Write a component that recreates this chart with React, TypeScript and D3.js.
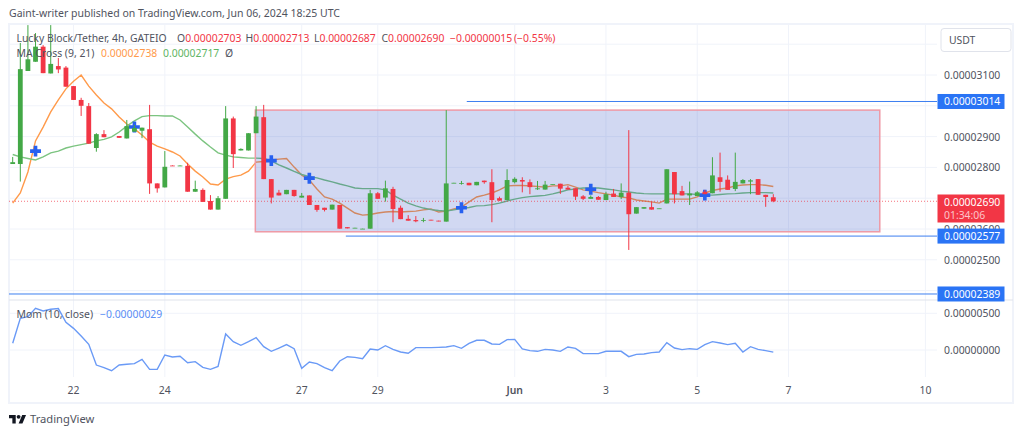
import React from 'react';
import * as d3 from 'd3';

// prices are in units of 0.00000001 USDT
const open = [
  2811, 2811, 3113, 3143, 3192, 3105, 3129, 3124, 3064, 3019,
  2999, 2863, 2908, 2902, 2902, 2894, 2916, 2919, 2924, 2748,
  2735, 2806, 2805, 2805, 2721, 2727, 2691, 2663, 2698, 2959,
  2855, 2855, 2911, 2963, 2762, 2718, 2713, 2727, 2702, 2709,
  2678, 2669, 2663, 2678, 2606, 2603, 2600, 2601, 2716, 2702,
  2730, 2669, 2633, 2629, 2627, 2630, 2627, 2624, 2749, 2748,
  2750, 2742, 2757, 2752, 2700, 2694, 2752, 2759, 2752, 2729,
  2728, 2745, 2747, 2734, 2732, 2706, 2698, 2704, 2694, 2715,
  2704, 2718, 2650, 2666, 2671, 2666, 2683, 2785, 2723, 2709,
  2707, 2721, 2716, 2768, 2760, 2730, 2748, 2754, 2762, 2711,
  2703,
];
const high = [
  2834, 3204, 3262, 3236, 3197, 3262, 3155, 3129, 3064, 3026,
  3009, 2911, 2921, 2902, 2902, 2954, 2938, 2929, 3003, 2748,
  2853, 2807, 2807, 2815, 2757, 2732, 2710, 2707, 2999, 2965,
  2862, 2911, 2999, 3003, 2762, 2727, 2727, 2727, 2717, 2709,
  2678, 2669, 2679, 2678, 2606, 2604, 2601, 2727, 2720, 2757,
  2737, 2676, 2645, 2642, 2636, 2630, 2627, 2986, 2750, 2756,
  2750, 2753, 2757, 2794, 2705, 2794, 2768, 2768, 2761, 2756,
  2756, 2746, 2747, 2740, 2732, 2710, 2709, 2707, 2721, 2730,
  2748, 2921, 2671, 2671, 2689, 2667, 2794, 2785, 2740, 2754,
  2723, 2727, 2833, 2848, 2774, 2848, 2762, 2762, 2762, 2711,
  2713,
];
const low = [
  2811, 2754, 3113, 3143, 3106, 3105, 3106, 3062, 3019, 2967,
  2877, 2851, 2898, 2901, 2896, 2894, 2916, 2895, 2714, 2718,
  2735, 2805, 2805, 2721, 2721, 2688, 2663, 2663, 2698, 2798,
  2855, 2855, 2911, 2762, 2683, 2709, 2713, 2705, 2702, 2678,
  2656, 2657, 2663, 2601, 2602, 2603, 2600, 2601, 2698, 2689,
  2622, 2632, 2627, 2622, 2622, 2628, 2625, 2624, 2749, 2744,
  2742, 2742, 2747, 2622, 2692, 2694, 2748, 2719, 2713, 2727,
  2728, 2745, 2714, 2728, 2694, 2694, 2698, 2695, 2694, 2704,
  2697, 2532, 2650, 2666, 2663, 2666, 2683, 2683, 2709, 2678,
  2707, 2713, 2716, 2721, 2727, 2723, 2748, 2713, 2711, 2672,
  2687,
];
const close = [
  2817, 3119, 3151, 3192, 3106, 3136, 3118, 3062, 3019, 3000,
  2877, 2908, 2898, 2901, 2896, 2934, 2928, 2929, 2748, 2732,
  2802, 2805, 2806, 2721, 2730, 2688, 2663, 2700, 2959, 2843,
  2860, 2911, 2965, 2762, 2702, 2709, 2727, 2707, 2708, 2678,
  2662, 2662, 2679, 2601, 2602, 2604, 2601, 2716, 2698, 2732,
  2665, 2632, 2627, 2625, 2629, 2628, 2625, 2748, 2750, 2749,
  2742, 2753, 2752, 2694, 2692, 2759, 2763, 2754, 2736, 2732,
  2744, 2746, 2731, 2728, 2705, 2698, 2704, 2695, 2713, 2704,
  2718, 2648, 2671, 2671, 2663, 2667, 2794, 2713, 2709, 2715,
  2719, 2713, 2774, 2753, 2727, 2753, 2759, 2758, 2711, 2704,
  2690,
];
const maFast = [
  2684, 2717, 2785, 2886, 2931, 2980, 3019, 3055, 3080, 3100,
  3064, 3035, 3009, 2990, 2964, 2941, 2925, 2905, 2882, 2869,
  2860, 2850, 2837, 2811, 2788, 2769, 2746, 2743, 2762, 2770,
  2775, 2788, 2817, 2819, 2824, 2827, 2829, 2801, 2775, 2759,
  2730, 2704, 2697, 2684, 2668, 2652, 2645, 2647, 2652, 2655,
  2657, 2655, 2657, 2658, 2662, 2665, 2655, 2658, 2665, 2671,
  2688, 2704, 2710, 2717, 2727, 2740, 2741, 2741, 2740, 2738,
  2736, 2740, 2740, 2744, 2736, 2727, 2723, 2718, 2714, 2710,
  2704, 2701, 2694, 2691, 2688, 2684, 2697, 2697, 2697, 2697,
  2704, 2717, 2725, 2730, 2733, 2740, 2743, 2744, 2744, 2742,
  2738,
];
const maSlow = [
  2842, 2834, 2829, 2824, 2834, 2847, 2853, 2863, 2869, 2874,
  2879, 2886, 2891, 2899, 2915, 2934, 2951, 2965, 2968, 2968,
  2967, 2967, 2954, 2931, 2908, 2886, 2866, 2847, 2840, 2834,
  2832, 2830, 2830, 2829, 2821, 2808, 2798, 2787, 2777, 2770,
  2766, 2759, 2753, 2746, 2740, 2733, 2731, 2731, 2731, 2727,
  2710, 2697, 2684, 2675, 2668, 2663, 2660, 2658, 2662, 2666,
  2670, 2675, 2676, 2679, 2684, 2691, 2697, 2702, 2705, 2707,
  2709, 2714, 2720, 2727, 2730, 2733, 2733, 2733, 2730, 2727,
  2723, 2720, 2717, 2715, 2714, 2714, 2714, 2714, 2714, 2714,
  2712, 2710, 2710, 2712, 2714, 2715, 2717, 2718, 2718, 2718,
  2717,
];
const momentum = [
  91, 432, 455, 568, 532, 555, 564, 377, 295, 191,
  77, -205, -241, -282, -205, -195, -186, -127, -264, -264,
  -68, -95, -86, -173, -159, -236, -264, -223, 218, 114,
  64, 114, 168, 45, -18, 27, 73, 18, -250, -164,
  -186, -241, -282, -150, -91, -100, -118, 14, 0, 59,
  9, -27, -45, 32, 32, 32, 36, 41, 59, 23,
  91, 132, 132, 82, 77, 141, 145, 14, -9, -18,
  9, 0, -18, 41, 23, -50, -50, -50, -18, -18,
  -18, -91, -59, -55, -36, -27, 100, 27, 5, 18,
  9, 73, 114, 95, 73, 91, -27, 45, 9, -9,
  -29,
];
const hiddenBars = [13];
const crossBars = [3, 16, 34, 39, 59, 76, 91];
const crossPrices = [2853, 2931, 2822, 2765, 2669, 2729, 2710];
const timeTickBars = [8, 20, 38, 48, 66, 78, 90, 102, 120];
const timeTickLabels = ['22', '24', '27', '29', 'Jun', '3', '5', '7', '10'];
const priceTicks = [3100, 2900, 2800, 2600, 2500];
const priceGrid = [3200, 3100, 3000, 2900, 2800, 2700, 2600, 2500, 2400];
const momTicks = [500, 0];
const blueLevels = [3014, 2577, 2389];
const blueStartBars = [59.7, 43.8, -1];
const rangeBox = [2986, 2591];
const rangeBars = [31.9, 114];
const lastPrice = 2690;

const FONT = "'Noto Sans', sans-serif";
const FS = 10.4;
const GRID = '#f0f3fa';
const UP = '#43a846';
const DOWN = '#f23645';
const LABEL = '#2a74f5';
const TEXT = '#50535e';

const fmt = (v: number) => (v / 1e8).toFixed(8);

const x = d3.scaleLinear().domain([0, 100]).range([12.7, 773.3]);
const y = d3.scaleLinear().domain([3100, 2500]).range([75, 259.8]);
const yMom = d3.scaleLinear().domain([0, 500]).range([350, 313.3]);

const PLOT_L = 9;
const PLOT_R = 937;

const priceLine = d3.line<number>().x((_, i) => x(i)).y((d) => y(d));
const momLine = d3.line<number>().x((_, i) => x(i)).y((d) => yMom(d));
const cross = d3.symbol().type(d3.symbolCross).size(66)();

const Label = ({ price, h, fill, text }: any) => (
  <g>
    <rect x={937.5} y={y(price) - h / 2} width={67} height={h} fill={fill} />
    <text x={944} y={y(price) + 4} fontSize={FS} fill="#fff">{text}</text>
  </g>
);

export default function App() {
  return (
    <div style={{ position: 'absolute', left: 0, top: 0 }}>
      <svg width={1024} height={435} fontFamily={FONT} style={{ display: 'block', background: '#fff' }}>
        <defs>
          <clipPath id="plot"><rect x={PLOT_L} y={25} width={PLOT_R - PLOT_L} height={275} /></clipPath>
          <clipPath id="mom"><rect x={PLOT_L} y={301} width={PLOT_R - PLOT_L} height={76} /></clipPath>
        </defs>

        <text x={9} y={17} fontSize={10.5} fill={TEXT}>Gaint-writer published on TradingView.com, Jun 06, 2024 18:25 UTC</text>

        {/* grid */}
        {priceGrid.map((p) => (
          <line key={p} x1={PLOT_L} x2={PLOT_R} y1={y(p)} y2={y(p)} stroke={GRID} />
        ))}
        {momTicks.map((m) => (
          <line key={m} x1={PLOT_L} x2={PLOT_R} y1={yMom(m)} y2={yMom(m)} stroke={GRID} />
        ))}
        {timeTickBars.map((b) => (
          <line key={b} x1={x(b)} x2={x(b)} y1={25} y2={377} stroke={GRID} />
        ))}

        {/* frame */}
        <rect x={9} y={24} width={1004} height={379} fill="none" stroke={GRID} strokeWidth={2} />
        <line x1={9} x2={1013} y1={300} y2={300} stroke="#e0e3eb" />

        {/* blue levels */}
        {blueLevels.map((p, i) => (
          <line key={p} x1={Math.max(x(blueStartBars[i]), PLOT_L)} x2={PLOT_R} y1={y(p)} y2={y(p)} stroke="#3d7ff0" />
        ))}

        <g clipPath="url(#plot)">
          <path d={priceLine(maFast) ?? ''} fill="none" stroke="#ff9a4a" strokeWidth={1.4} />
          <path d={priceLine(maSlow) ?? ''} fill="none" stroke="#7cc480" strokeWidth={1.4} />
        </g>

        {/* range box */}
        <rect
          x={x(rangeBars[0])}
          y={y(rangeBox[0])}
          width={x(rangeBars[1]) - x(rangeBars[0])}
          height={y(rangeBox[1]) - y(rangeBox[0])}
          fill="#193cbe"
          fillOpacity={0.2}
        />
        <rect
          x={x(rangeBars[0])}
          y={y(rangeBox[0])}
          width={x(rangeBars[1]) - x(rangeBars[0])}
          height={y(rangeBox[1]) - y(rangeBox[0])}
          fill="none"
          stroke="#ee99a6"
          strokeWidth={1.5}
        />

        <line x1={PLOT_L} x2={PLOT_R} y1={y(lastPrice)} y2={y(lastPrice)} stroke={DOWN} strokeOpacity={0.7} strokeDasharray="1 2" />

        {crossBars.map((b, i) => (
          <path key={b} d={cross ?? ''} transform={`translate(${x(b)},${y(crossPrices[i])})`} fill="#2760f0" />
        ))}

        {/* candles */}
        <g clipPath="url(#plot)">
          {open.map((o, i) => {
            if (hiddenBars.includes(i)) return null;
            const c = close[i];
            const col = c >= o ? UP : DOWN;
            const top = y(Math.max(o, c));
            const h = Math.max(Math.abs(y(o) - y(c)), 0.8);
            return (
              <g key={i}>
                <line x1={x(i)} x2={x(i)} y1={y(high[i])} y2={y(low[i])} stroke={col} />
                <rect x={x(i) - 2.4} y={top} width={4.8} height={h} fill={col} />
              </g>
            );
          })}
        </g>

        {/* legend */}
        <text x={16.5} y={42} fontSize={FS} fill={TEXT}>Lucky Block/Tether, 4h, GATEIO</text>
        <text y={42} fontSize={FS} fill={TEXT}>
          <tspan x={177}>O</tspan><tspan fill={DOWN}>{fmt(2703)}</tspan>
          <tspan x={245.5}>H</tspan><tspan fill={DOWN}>{fmt(2713)}</tspan>
          <tspan x={314}>L</tspan><tspan fill={DOWN}>{fmt(2687)}</tspan>
          <tspan x={381.5}>C</tspan><tspan fill={DOWN}>{fmt(2690)}</tspan>
          <tspan x={450} fill={DOWN}>−0.00000015</tspan>
          <tspan x={514} fill={DOWN}>(−0.55%)</tspan>
        </text>
        <text x={16.5} y={57} fontSize={FS} fill={TEXT}>MA Cross (9, 21)</text>
        <text x={101} y={57} fontSize={FS} fill="#ff9a4a">0.00002738</text>
        <text x={163} y={57} fontSize={FS} fill="#5fb564">0.00002717</text>
        <text x={225} y={57} fontSize={FS} fill={TEXT}>Ø</text>

        {/* momentum */}
        <g clipPath="url(#mom)">
          <path d={momLine(momentum) ?? ''} fill="none" stroke="#6a9af6" strokeWidth={1.4} />
        </g>
        <text x={16.5} y={318} fontSize={FS} fill={TEXT}>Mom (10, close)</text>
        <text x={100} y={318} fontSize={FS} fill="#5b8ff5">−0.00000029</text>

        {/* price axis */}
        <rect x={941} y={28.5} width={70} height={23} rx={3} fill="#fff" stroke="#e0e3eb" />
        <text x={949} y={44} fontSize={FS} fill={TEXT}>USDT</text>
        {priceTicks.map((p) => (
          <text key={p} x={944} y={y(p) + 4} fontSize={FS} fill={TEXT}>{fmt(p)}</text>
        ))}
        {momTicks.map((m) => (
          <text key={m} x={944} y={yMom(m) + 4} fontSize={FS} fill={TEXT}>{fmt(m)}</text>
        ))}
        {blueLevels.map((p) => (
          <Label key={p} price={p} h={15} fill={LABEL} text={fmt(p)} />
        ))}
        <rect x={937.5} y={194.5} width={67} height={28} fill={DOWN} />
        <text x={944} y={206} fontSize={FS} fill="#fff">{fmt(lastPrice)}</text>
        <text x={944} y={219} fontSize={FS} fill="#fcc4c9">01:34:06</text>

        {/* time axis */}
        {timeTickBars.map((b, i) => (
          <text
            key={b}
            x={x(b)}
            y={394}
            fontSize={FS}
            textAnchor="middle"
            fontWeight={timeTickLabels[i] === 'Jun' ? 600 : 400}
            fill={TEXT}
          >
            {timeTickLabels[i]}
          </text>
        ))}

        {/* footer */}
        <g transform="translate(9,413) scale(0.48)" fill="#131722">
          <path d="M14 22H7V11H0V4h14v18zM28 22h-8l7.5-18h8L28 22z" />
          <circle cx={20} cy={8} r={4} />
        </g>
        <text x={30} y={423} fontSize={11.2} fill={TEXT}>TradingView</text>
      </svg>
    </div>
  );
}
